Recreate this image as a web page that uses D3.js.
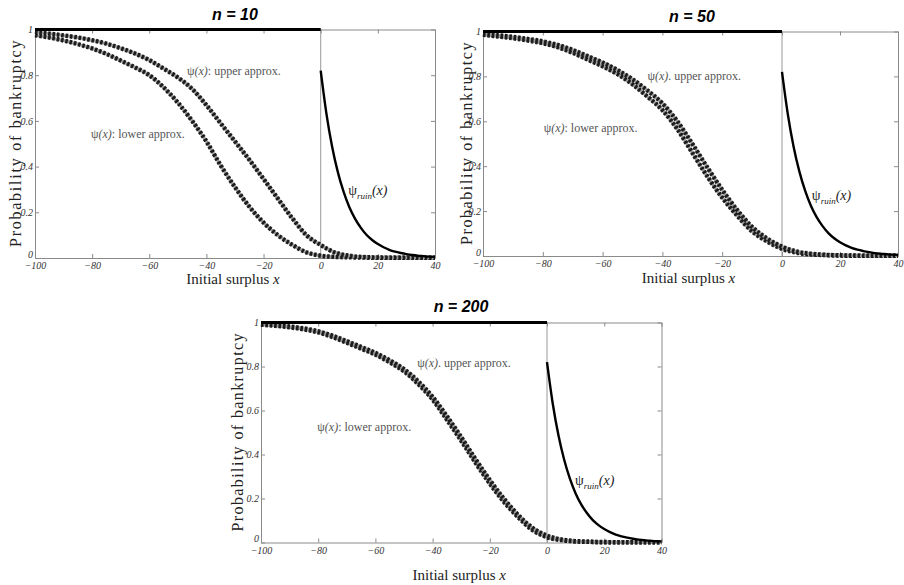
<!DOCTYPE html>
<html>
<head>
<meta charset="utf-8">
<script src="https://cdn.jsdelivr.net/npm/d3@7"></script>
<style>
  body { margin: 0; background: #fff; }
  svg { display: block; }
  .tick text { font-family: "Liberation Serif", serif; font-style: italic; font-size: 10px; fill: #333; }
</style>
</head>
<body>
<svg id="chart" width="904" height="585"></svg>
<script>
// x grid shared by the approximation curves
const xs = [-100, -95, -90, -85, -80, -75, -70, -65, -60, -55, -50, -45, -40, -35, -30,
    -25, -20, -15, -10, -5, 0, 5, 10, 15, 20, 25, 30, 35, 40];

const upper10 = [0.99, 0.982, 0.974, 0.965, 0.953, 0.938, 0.918, 0.895, 0.866, 0.829, 0.79, 0.74, 0.669, 0.589, 0.51,
    0.43, 0.346, 0.26, 0.175, 0.1, 0.057, 0.024, 0.01, 0.004, 0.002, 0.001, 0.001, 0.001, 0.001];
const lower10 = [0.975, 0.965, 0.952, 0.936, 0.917, 0.893, 0.864, 0.834, 0.80, 0.747, 0.68, 0.60, 0.51, 0.405, 0.31,
    0.225, 0.155, 0.10, 0.058, 0.025, 0.01, 0.005, 0.003, 0.002, 0.001, 0.001, 0.001, 0.001, 0.001];

const upper50 = [0.99, 0.983, 0.976, 0.967, 0.956, 0.94, 0.918, 0.89, 0.862, 0.828, 0.787, 0.737, 0.68, 0.6, 0.5,
    0.395, 0.295, 0.205, 0.13, 0.078, 0.042, 0.02, 0.01, 0.005, 0.003, 0.002, 0.001, 0.001, 0.001];
const lower50 = [0.985, 0.978, 0.97, 0.96, 0.948, 0.93, 0.905, 0.875, 0.845, 0.81, 0.765, 0.71, 0.65, 0.565, 0.46,
    0.355, 0.26, 0.18, 0.11, 0.065, 0.032, 0.015, 0.007, 0.004, 0.002, 0.001, 0.001, 0.001, 0.001];

const upper200 = [0.993, 0.988, 0.982, 0.973, 0.96, 0.94, 0.915, 0.889, 0.862, 0.828, 0.788, 0.732, 0.662, 0.574, 0.479,
    0.379, 0.284, 0.198, 0.124, 0.066, 0.031, 0.014, 0.006, 0.003, 0.002, 0.001, 0.001, 0.001, 0.001];
const lower200 = [0.99, 0.985, 0.978, 0.969, 0.955, 0.934, 0.908, 0.881, 0.854, 0.819, 0.778, 0.72, 0.65, 0.558, 0.463,
    0.363, 0.268, 0.184, 0.114, 0.056, 0.024, 0.011, 0.005, 0.003, 0.001, 0.001, 0.001, 0.001, 0.001];

// ruin probability, x >= 0
const ruinX = [0, 2, 4, 6, 8, 10, 12, 14, 16, 18, 20, 22, 24, 26, 28, 30, 32, 34, 36, 38, 40];
const ruinY = [0.82, 0.632, 0.487, 0.376, 0.29, 0.223, 0.172, 0.133, 0.102, 0.079, 0.061, 0.047, 0.036, 0.028,
    0.022, 0.017, 0.013, 0.01, 0.008, 0.006, 0.005];

// bankruptcy for x < 0 is certain
const certainX = [-100, 0];
const certainY = [1, 1];

const xTicks = [-100, -80, -60, -40, -20, 0, 20, 40];
const xTickLabels = ["\u2212100", "\u221280", "\u221260", "\u221240", "\u221220", "0", "20", "40"];
const yTicks = [0, 0.2, 0.4, 0.6, 0.8, 1];
const yTickLabels = ["0", "0.2", "0.4", "0.6", "0.8", "1"];

const titles = ["n = 10", "n = 50", "n = 200"];

const panels = [
    {title: titles[0], upper: upper10, lower: lower10, sep: ":",
        box: {left: 35, zero: 320.7, right: 435, top: 29.5, bottom: 258},
        titleAt: [235, 20], xLabelY: 284, yLabelX: 15,
        upLab: [-46.8, 0.80], lowLab: [-80.4, 0.525], ruinLab: [9.6, 0.276]},
    {title: titles[1], upper: upper50, lower: lower50, sep: ".",
        box: {left: 483, zero: 782, right: 898, top: 31.5, bottom: 256},
        titleAt: [692, 22], xLabelY: 283, yLabelX: 466,
        upLab: [-45, 0.784], lowLab: [-79.7, 0.552], ruinLab: [10.3, 0.25]},
    {title: titles[2], upper: upper200, lower: lower200, sep: ".",
        box: {left: 261, zero: 547, right: 661.5, top: 322.5, bottom: 542.5},
        titleAt: [461, 312], xLabelY: 580, yLabelX: 237,
        upLab: [-45.4, 0.798], lowLab: [-80.3, 0.507], ruinLab: [9.8, 0.261]}
];

const svg = d3.select("#chart");
const serif = "'Liberation Serif', 'DejaVu Serif', serif";

function drawPanel(p) {
    const b = p.box;
    const x = d3.scaleLinear().domain([-100, 0, 40]).range([b.left, b.zero, b.right]);
    const y = d3.scaleLinear().domain([0, 1]).range([b.bottom, b.top]);
    const g = svg.append("g");

    // axes, ticks pointing inward
    const axes = [
        {ax: d3.axisBottom(x).tickValues(xTicks).tickFormat((d, i) => xTickLabels[i]).tickPadding(4), t: [0, b.bottom]},
        {ax: d3.axisTop(x).tickValues(xTicks).tickFormat(""), t: [0, b.top]},
        {ax: d3.axisLeft(y).tickValues(yTicks).tickFormat((d, i) => yTickLabels[i]).tickPadding(2), t: [b.left, 0]},
        {ax: d3.axisRight(y).tickValues(yTicks).tickFormat(""), t: [b.right, 0]}
    ];
    axes.forEach((a, k) => {
        const s = g.append("g")
            .attr("transform", `translate(${a.t[0]},${a.t[1]})`)
            .call(a.ax.tickSizeInner(-4).tickSizeOuter(0));
        s.select(".domain").attr("stroke", "#8a8a8a");
        s.selectAll(".tick line").attr("stroke", "#8a8a8a");
        // lift the y "0" a little so it sits above the "-100"
        if (k === 2) s.selectAll(".tick text").filter(d => d === 0).attr("dy", "-0.1em");
    });

    // vertical line at x = 0
    g.append("line")
        .attr("x1", x(0)).attr("x2", x(0))
        .attr("y1", y(0)).attr("y2", y(1))
        .attr("stroke", "#999").attr("stroke-width", 1);

    const line = d3.line().x(d => x(d[0])).y(d => y(d[1])).curve(d3.curveMonotoneX);

    // the two approximations: grey core with dark square dots
    [p.lower, p.upper].forEach(vals => {
        const pts = xs.map((v, i) => [v, vals[i]]);
        g.append("path").datum(pts).attr("d", line)
            .attr("fill", "none").attr("stroke", "#9a9a9a").attr("stroke-width", 3);
        g.append("path").datum(pts).attr("d", line)
            .attr("fill", "none").attr("stroke", "#1c1c1c").attr("stroke-width", 4.5)
            .attr("stroke-dasharray", "2.6,1.8");
    });

    g.append("path").datum(certainX.map((v, i) => [v, certainY[i]]))
        .attr("d", d3.line().x(d => x(d[0])).y(d => y(d[1])))
        .attr("stroke", "#000").attr("stroke-width", 3.2);

    g.append("path").datum(ruinX.map((v, i) => [v, ruinY[i]]))
        .attr("d", line)
        .attr("fill", "none").attr("stroke", "#000").attr("stroke-width", 2.4);

    // title
    g.append("text")
        .attr("x", p.titleAt[0]).attr("y", p.titleAt[1])
        .attr("text-anchor", "middle")
        .style("font-family", "'Liberation Sans', Arial, sans-serif")
        .style("font-weight", "bold").style("font-style", "italic")
        .style("font-size", "16px")
        .text(p.title);

    // axis titles
    g.append("text")
        .attr("x", (b.left + b.right) / 2 - 2).attr("y", p.xLabelY)
        .attr("text-anchor", "middle")
        .style("font-family", serif).style("font-size", "15px").attr("fill", "#222")
        .text("Initial surplus ")
        .append("tspan").style("font-style", "italic").text("x");

    g.append("text")
        .attr("transform", `translate(${p.yLabelX},${(b.top + b.bottom) / 2}) rotate(-90)`)
        .attr("text-anchor", "middle").attr("dy", "0.35em")
        .attr("textLength", (b.bottom - b.top) - 22).attr("lengthAdjust", "spacing")
        .style("font-family", serif).style("font-size", "16px").attr("fill", "#222")
        .text("Probability of bankruptcy");

    // curve annotations
    const note = (pos, sep, word) => {
        const t = g.append("text")
            .attr("x", x(pos[0])).attr("y", y(pos[1]))
            .style("font-family", serif).style("font-size", "12px").attr("fill", "#555");
        t.append("tspan").text("\u03c8");
        t.append("tspan").style("font-style", "italic").text("(x)");
        t.append("tspan").text(sep + " " + word + " approx.");
    };
    note(p.upLab, p.sep, "upper");
    note(p.lowLab, ":", "lower");

    const r = g.append("text")
        .attr("x", x(p.ruinLab[0])).attr("y", y(p.ruinLab[1]))
        .style("font-family", serif).style("font-size", "14px").attr("fill", "#222");
    r.append("tspan").text("\u03c8");
    r.append("tspan").attr("dy", 4).style("font-size", "9px").style("font-style", "italic").text("ruin");
    r.append("tspan").attr("dy", -4).style("font-style", "italic").text("(x)");
}

panels.forEach(drawPanel);
</script>
</body>
</html>
